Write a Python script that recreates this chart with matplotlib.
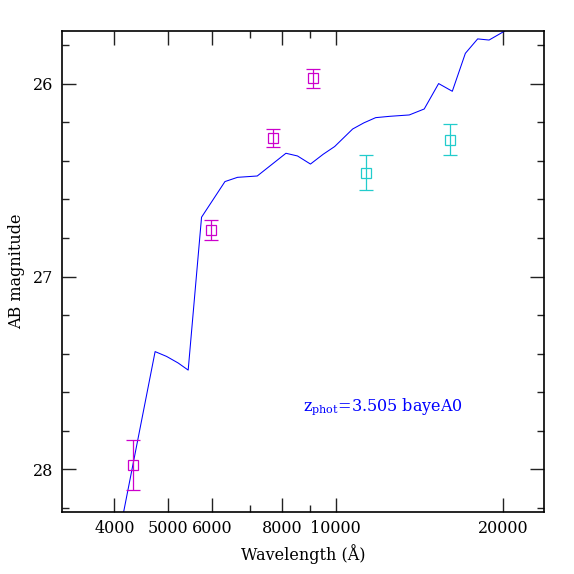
import matplotlib
matplotlib.use("Agg")
import matplotlib.pyplot as plt
from matplotlib.ticker import FixedLocator, FixedFormatter, NullFormatter

plt.rcParams["font.family"] = "DejaVu Serif"
plt.rcParams["mathtext.fontset"] = "dejavuserif"

# model spectrum (wavelength in Angstrom, AB magnitude)
sed_wave = [4100, 4735, 4965, 5208, 5430, 5739, 6323, 6660, 7228, 8140, 8540,
            9010, 9499, 9960, 10730, 11241, 11803, 12523, 13565, 14432, 15319,
            16212, 17112, 18007, 18877, 20089, 21000]
sed_mag = [28.31, 27.39, 27.415, 27.449, 27.486, 26.692, 26.507, 26.485, 26.478,
           26.360, 26.374, 26.416, 26.365, 26.325, 26.234, 26.202, 26.175,
           26.168, 26.161, 26.130, 25.998, 26.038, 25.841, 25.766, 25.772,
           25.727, 25.69]

# photometry, two groups
mag_wave = [4324, 5956, 7721, 9091]
mag_val = [27.98, 26.76, 26.28, 25.97]
mag_err = [0.13, 0.052, 0.048, 0.05]

cyan_wave = [11337, 16077]
cyan_val = [26.46, 26.29]
cyan_err = [0.089, 0.08]

xticks = [4000, 5000, 6000, 8000, 10000, 20000]
xtick_labels = ["4000", "5000", "6000", "8000", "10000", "20000"]

fig = plt.figure(figsize=(5.74, 5.74), dpi=100)
ax = fig.add_axes([62 / 574, 1 - 512 / 574, (544 - 62) / 574, (512 - 31) / 574])

ax.plot(sed_wave, sed_mag, color="#0000ff", lw=0.75)
ax.errorbar(mag_wave, mag_val, yerr=mag_err, fmt="s", mfc="none", mec="#cc00cc",
            ecolor="#cc00cc", ms=7.4, mew=0.9, elinewidth=0.9, capsize=5, capthick=0.9)
ax.errorbar(cyan_wave, cyan_val, yerr=cyan_err, fmt="s", mfc="none", mec="#22cccc",
            ecolor="#22cccc", ms=7.4, mew=0.9, elinewidth=0.9, capsize=5, capthick=0.9)

ax.set_xscale("log")
ax.set_xlim(3220, 23700)
ax.set_ylim(28.223, 25.725)

ax.xaxis.set_major_locator(FixedLocator(xticks))
ax.xaxis.set_major_formatter(FixedFormatter(xtick_labels))
ax.xaxis.set_minor_locator(FixedLocator([7000, 9000]))
ax.xaxis.set_minor_formatter(NullFormatter())
ax.yaxis.set_major_locator(FixedLocator([26, 27, 28]))
ax.yaxis.set_minor_locator(FixedLocator([25.8, 26.2, 26.4, 26.6, 26.8, 27.2, 27.4,
                                         27.6, 27.8, 28.2]))

ax.tick_params(which="both", direction="in", top=True, right=True, labelsize=11.5,
               width=1.0, colors="#222222", labelcolor="black")
ax.tick_params(which="major", length=10, pad=6)
ax.tick_params(which="minor", length=5)
for s in ax.spines.values():
    s.set_linewidth(1.2)

ax.set_xlabel("Wavelength (Å)", fontsize=11.5, labelpad=5)
ax.set_ylabel("AB magnitude", fontsize=11.5, labelpad=6)

ax.text(8734, 27.695, r"z$_{\rm phot}$=3.505 bayeA0", color="#0000ff",
        fontsize=11.5, ha="left", va="baseline")

fig.savefig("out.png", dpi=100)
